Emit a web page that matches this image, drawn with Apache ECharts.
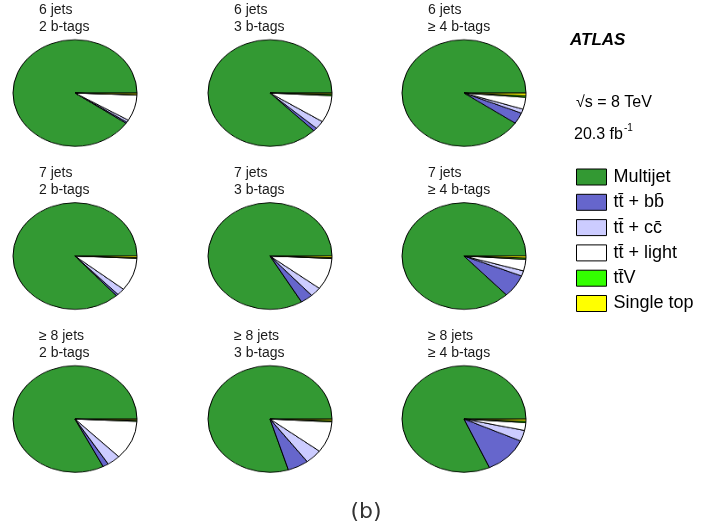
<!DOCTYPE html>
<html>
<head>
<meta charset="utf-8">
<script src="https://cdn.jsdelivr.net/npm/echarts@6/dist/echarts.min.js"></script>
<style>
html,body{margin:0;padding:0;background:#fff;width:712px;height:528px;overflow:hidden;}
#pies{position:absolute;left:0;top:0;width:712px;height:614px;transform:scaleY(0.86);transform-origin:0 0;}
#main{position:absolute;left:0;top:0;width:712px;height:528px;}
</style>
</head>
<body>
<div id="pies"></div>
<div id="main"></div>
<script>
// ---- data ----
const jetLabels = ['6 jets', '7 jets', '\u2265 8 jets'];
const tagLabels = ['2 b-tags', '3 b-tags', '\u2265 4 b-tags'];
const processLegend = ['Multijet', 'tt\u0304 + bb\u0304', 'tt\u0304 + cc\u0304', 'tt\u0304 + light', 'tt\u0304V', 'Single top'];
// fractions (%) per region, order: 6j2b,6j3b,6j4b,7j2b,7j3b,7j4b,8j2b,8j3b,8j4b
const multijet  = [90.4, 87.5, 90.5, 86.6, 83.5, 87.0, 82.5, 79.8, 81.75];
const ttbb      = [0.4, 1.0, 3.4, 0.55, 3.25, 6.9, 1.5, 5.45, 11.5];
const ttcc      = [0.7, 2.5, 1.25, 2.1, 2.9, 1.6, 3.5, 4.45, 3.3];
const ttlight   = [7.9, 8.2, 3.6, 10.0, 9.6, 3.5, 11.8, 9.45, 2.35];
const ttV       = [0.1, 0.4, 0.5, 0.2, 0.25, 0.4, 0.3, 0.35, 0.45];
const singleTop = [0.5, 0.4, 0.8, 0.5, 0.5, 0.6, 0.4, 0.5, 0.65];

// ---- style ----
const colors = ['#339933', '#6666cc', '#ccccff', '#ffffff', '#33ff00', '#ffff00'];
const SY = 0.86;
const colX = [75, 270, 464];
const rowY = [93, 256, 419];
const R = 62;
const FONT = '"Liberation Sans", Arial, Helvetica, sans-serif';

const allSeries = [multijet, ttbb, ttcc, ttlight, ttV, singleTop];

const pieChart = echarts.init(document.getElementById('pies'), null, {renderer: 'canvas'});
const pieSeries = [];
for (let r = 0; r < 3; r++) {
  for (let c = 0; c < 3; c++) {
    const idx = r * 3 + c;
    pieSeries.push({
      type: 'pie',
      center: [colX[c], rowY[r] / SY],
      radius: R,
      startAngle: 0,
      clockwise: false,
      silent: true,
      animation: false,
      label: {show: false},
      labelLine: {show: false},
      emphasis: {disabled: true},
      itemStyle: {borderColor: '#000', borderWidth: 1},
      data: processLegend.map((p, k) => ({name: p, value: allSeries[k][idx], itemStyle: {color: colors[k]}}))
    });
  }
}
pieChart.setOption({animation: false, series: pieSeries});

// ---- overlay: text & legend ----
const main = echarts.init(document.getElementById('main'), null, {renderer: 'canvas'});
const graphics = [];
for (let r = 0; r < 3; r++) {
  for (let c = 0; c < 3; c++) {
    graphics.push({
      type: 'text', x: colX[c] - 36, y: rowY[r] - 91, silent: true,
      style: {text: jetLabels[r] + '\n' + tagLabels[c], font: '14px ' + FONT, fill: '#1a1a1a', lineHeight: 17, verticalAlign: 'top', align: 'left'}
    });
  }
}
graphics.push({type: 'text', x: 570, y: 40, silent: true,
  style: {text: 'ATLAS', font: 'italic bold 17px ' + FONT, fill: '#000', verticalAlign: 'middle'}});
graphics.push({type: 'text', x: 576, y: 102.5, silent: true,
  style: {text: '\u221As = 8 TeV', font: '16px ' + FONT, fill: '#000', verticalAlign: 'middle'}});
graphics.push({type: 'text', x: 574, y: 134.5, silent: true,
  style: {text: '20.3 fb', font: '16px ' + FONT, fill: '#000', verticalAlign: 'middle'}});
graphics.push({type: 'text', x: 624, y: 128, silent: true,
  style: {text: '-1', font: '10px ' + FONT, fill: '#000', verticalAlign: 'middle'}});
graphics.push({type: 'text', x: 366, y: 512, silent: true,
  style: {text: '(b)', font: '22px "DejaVu Sans", sans-serif', fill: '#333', verticalAlign: 'middle', align: 'center'}});

main.setOption({
  animation: false,
  legend: {
    orient: 'vertical', left: 576, top: 168, padding: 0,
    icon: 'rect', itemWidth: 30, itemHeight: 16, itemGap: 7.3,
    itemStyle: {borderColor: '#000', borderWidth: 1},
    textStyle: {fontSize: 18, fontFamily: FONT, color: '#000', padding: [0, 0, 0, 2]},
    selectedMode: false,
    data: processLegend
  },
  graphic: graphics,
  series: [{
    type: 'pie', center: [-100, -100], radius: 0, silent: true,
    label: {show: false}, labelLine: {show: false},
    data: processLegend.map((p, k) => ({name: p, value: 1, itemStyle: {color: colors[k]}}))
  }]
});
</script>
</body>
</html>
